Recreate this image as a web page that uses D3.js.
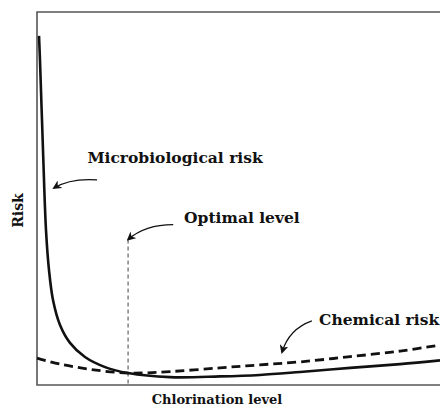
<!DOCTYPE html>
<html lang="en">
<head>
  <meta charset="UTF-8">
  <title>Chlorination risk</title>
  <script src="https://d3js.org/d3.v7.min.js"></script>
  <style>
    body { margin: 0; background: #fff; }
    text { font-family: "DejaVu Serif", serif; font-weight: bold; fill: #111; }
  </style>
</head>
<body>
  <div id="chart"></div>
<script>
  const w = 440,
    h = 409;

  // chlorination level, 0..100 (arbitrary units)
  const microX = [0.5, 0.74, 1.49, 2.23, 2.98, 3.97, 5.71, 8.19, 11.9, 16.9, 22.6, 33.0, 45.4, 55.3, 65.3, 77.7, 90.1, 100];
  const microRisk = [93.6, 87.1, 63.0, 41.6, 30.8, 22.8, 16.1, 11.3, 7.5, 4.8, 3.2, 2.1, 2.3, 2.7, 3.5, 4.6, 5.6, 6.6];

  const chemX = [0, 5.7, 13.2, 22.6, 33.0, 45.4, 55.3, 65.3, 77.7, 90.1, 100];
  const chemRisk = [7.2, 5.6, 4.2, 3.2, 3.6, 4.6, 5.4, 6.2, 7.6, 9.1, 10.7];

  const optimalLevel = 22.6;

  // label text, anchor in data units, arrow from -> to in data units
  const labels = [
    { text: 'Microbiological risk', x: 12.5, y: 59.5, from: [14.9, 55.0], to: [4.2, 52.8], bend: [8.2, 55.5] },
    { text: 'Optimal level', x: 36.5, y: 43.5, from: [33.8, 43.0], to: [22.6, 39.0], bend: [26.8, 43.0] },
    { text: 'Chemical risk', x: 70.0, y: 16.2, from: [68.2, 17.2], to: [60.8, 8.8], bend: [62.5, 15.0] }
  ];

  const margin = { top: 12, right: 0, bottom: 24, left: 37 };

  const svg = d3.select('#chart').append('svg')
    .attr('width', w)
    .attr('height', h);

  const x = d3.scaleLinear()
    .domain([0, 100])
    .range([margin.left, w - margin.right]);

  const y = d3.scaleLinear()
    .domain([0, 100])
    .range([h - margin.bottom, margin.top]);

  // frame (right side runs off the picture)
  svg.append('path')
    .attr('d', `M${w + 5},${y(100)}H${x(0)}V${y(0)}H${w + 5}`)
    .attr('fill', 'none')
    .attr('stroke', '#555')
    .attr('stroke-width', 1.6);

  // optimal level marker
  svg.append('line')
    .attr('x1', x(optimalLevel))
    .attr('x2', x(optimalLevel))
    .attr('y1', y(39.0))
    .attr('y2', y(0))
    .attr('stroke', '#444')
    .attr('stroke-width', 1)
    .attr('stroke-dasharray', '4,3');

  const line = d3.line()
    .x((d) => x(d[0]))
    .y((d) => y(d[1]))
    .curve(d3.curveCatmullRom.alpha(0.5));

  svg.append('path')
    .datum(chemX.map((v, i) => [v, chemRisk[i]]))
    .attr('d', line)
    .attr('fill', 'none')
    .attr('stroke', '#111')
    .attr('stroke-width', 2.8)
    .attr('stroke-dasharray', '9,5');

  svg.append('path')
    .datum(microX.map((v, i) => [v, microRisk[i]]))
    .attr('d', line)
    .attr('fill', 'none')
    .attr('stroke', '#111')
    .attr('stroke-width', 2.6);

  // arrow heads
  svg.append('defs').append('marker')
    .attr('id', 'head')
    .attr('viewBox', '0 0 10 10')
    .attr('refX', 8)
    .attr('refY', 5)
    .attr('markerWidth', 9)
    .attr('markerHeight', 9)
    .attr('markerUnits', 'userSpaceOnUse')
    .attr('orient', 'auto')
    .append('path')
    .attr('d', 'M0,0L10,5L0,10L3,5Z')
    .attr('fill', '#111');

  const notes = svg.selectAll('.note')
    .data(labels)
    .enter()
    .append('g')
    .attr('class', 'note');

  notes.append('path')
    .attr('d', (d) => `M${x(d.from[0])},${y(d.from[1])}Q${x(d.bend[0])},${y(d.bend[1])} ${x(d.to[0])},${y(d.to[1])}`)
    .attr('fill', 'none')
    .attr('stroke', '#111')
    .attr('stroke-width', 1.3)
    .attr('marker-end', 'url(#head)');

  notes.append('text')
    .attr('x', (d) => x(d.x))
    .attr('y', (d) => y(d.y))
    .style('font-size', '15.5px')
    .text((d) => d.text);

  // axis titles
  svg.append('text')
    .attr('x', 217)
    .attr('y', h - 5)
    .attr('text-anchor', 'middle')
    .style('font-size', '13px')
    .text('Chlorination level');

  svg.append('text')
    .attr('transform', `translate(23,${(y(0) + y(100)) / 2 + 12}) rotate(-90)`)
    .attr('text-anchor', 'middle')
    .style('font-size', '14px')
    .text('Risk');
</script>
</body>
</html>
